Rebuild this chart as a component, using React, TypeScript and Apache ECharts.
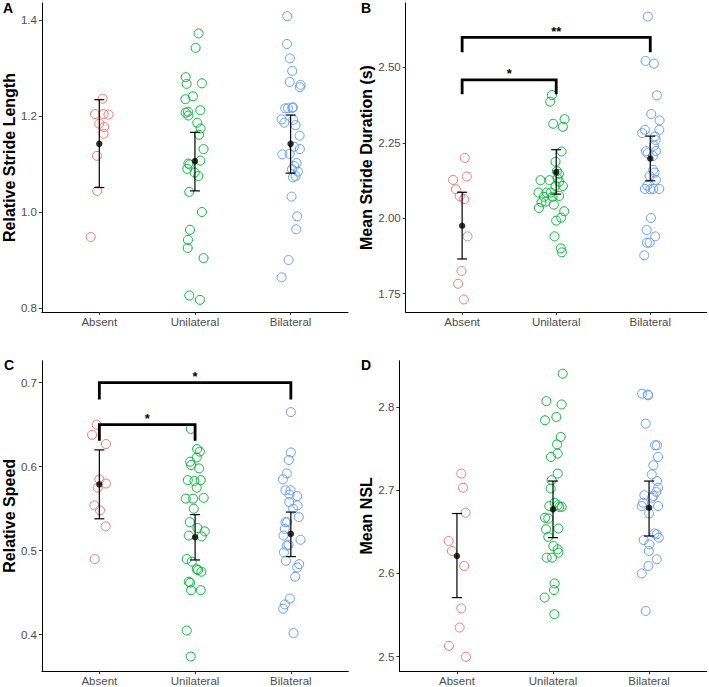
import React, { useEffect, useRef } from "react";
import * as echarts from "echarts";

const categories = ["Absent", "Unilateral", "Bilateral"];
const groupColors = ["#F8766D", "#00BA38", "#619CFF"];

// Each point: [horizontal jitter offset from category centre, value]
// Panel A — Relative Stride Length
const strideLengthAbsent = [[0.035,1.236],[-0.045,1.204],[0.045,1.204],[0.097,1.203],[0,1.184],[0.052,1.177],[0.045,1.163],[-0.024,1.117],[-0.021,1.044],[-0.09,0.948]];
const strideLengthUnilateral = [[0.038,1.372],[0.007,1.342],[-0.097,1.281],[-0.087,1.267],[0.073,1.268],[-0.021,1.241],[-0.1,1.235],[0.056,1.212],[-0.097,1.207],[-0.073,1.209],[-0.069,1.201],[0.024,1.186],[0.059,1.174],[0.042,1.161],[0.09,1.131],[0.056,1.107],[-0.069,1.101],[-0.056,1.099],[-0.08,1.09],[-0.003,1.082],[0.035,1.075],[-0.059,1.042],[0.073,1.0],[-0.052,0.963],[-0.073,0.942],[-0.076,0.925],[0.09,0.904],[-0.059,0.826],[0.052,0.817]];
const strideLengthBilateral = [[-0.035,1.408],[-0.038,1.35],[-0.007,1.32],[0.017,1.294],[-0.01,1.271],[0.104,1.265],[0.097,1.26],[-0.056,1.216],[-0.028,1.216],[0.017,1.217],[0.024,1.218],[-0.094,1.193],[-0.066,1.186],[0.028,1.192],[0.052,1.181],[0.094,1.159],[0.035,1.136],[0.097,1.131],[-0.087,1.12],[-0.01,1.121],[0.063,1.102],[0.038,1.096],[0.014,1.089],[0.076,1.084],[0.024,1.072],[0.052,1.075],[0.01,1.032],[0.069,0.991],[0.059,0.964],[-0.021,0.9],[-0.094,0.864]];
const strideLengthMean = [1.142, 1.106, 1.142];
const strideLengthLower = [1.051, 1.044, 1.081];
const strideLengthUpper = [1.234, 1.166, 1.202];
const strideLengthTicks = [0.8, 1.0, 1.2, 1.4];

// Panel B — Mean Stride Duration (s)
const strideDurAbsent = [[0.028,2.2],[-0.096,2.127],[0.05,2.138],[-0.067,2.096],[-0.025,2.073],[0.021,2.063],[0.057,1.94],[-0.007,1.825],[-0.043,1.783],[0.018,1.731]];
const strideDurUnilateral = [[-0.046,2.408],[-0.064,2.386],[-0.032,2.313],[0.089,2.328],[0.071,2.303],[0.057,2.221],[-0.007,2.187],[0.007,2.156],[0.028,2.147],[-0.167,2.126],[0.014,2.132],[-0.071,2.126],[0.032,2.121],[0.071,2.107],[-0.007,2.107],[-0.188,2.085],[-0.103,2.085],[-0.057,2.085],[-0.039,2.071],[0.032,2.074],[-0.131,2.071],[-0.156,2.053],[-0.11,2.055],[-0.025,2.045],[-0.184,2.034],[0.085,2.023],[0.053,2.002],[0,1.992],[-0.018,1.94],[0.05,1.9],[0.06,1.887]];
const strideDurBilateral = [[-0.025,2.668],[-0.05,2.521],[0.039,2.512],[0.071,2.407],[0.011,2.345],[0.099,2.324],[-0.057,2.293],[0.096,2.293],[-0.085,2.282],[0.05,2.271],[0.057,2.259],[0.039,2.24],[-0.046,2.222],[0.06,2.223],[-0.028,2.215],[0.028,2.206],[0.032,2.16],[0.046,2.151],[-0.007,2.14],[0.06,2.127],[-0.032,2.108],[-0.057,2.097],[0,2.096],[0.032,2.097],[0.096,2.097],[0.007,2.001],[-0.039,1.961],[0.053,1.94],[-0.007,1.919],[-0.035,1.919],[-0.064,1.877]];
const strideDurMean = [1.975, 2.153, 2.198];
const strideDurLower = [1.865, 2.08, 2.124];
const strideDurUpper = [2.086, 2.227, 2.272];
const strideDurTicks = [1.75, 2.0, 2.25, 2.5];
const strideDurBrackets = [
  { from: 1, to: 2, top: 2.458, drop: 2.411, label: "*" },
  { from: 1, to: 3, top: 2.599, drop: 2.55, label: "**" },
];

// Panel C — Relative Speed
const speedAbsent = [[-0.028,0.65],[-0.076,0.638],[0.069,0.627],[0,0.585],[0.069,0.58],[-0.017,0.575],[-0.052,0.554],[0.007,0.548],[0.066,0.529],[-0.049,0.49]];
const speedUnilateral = [[-0.045,0.645],[0.021,0.621],[0.049,0.618],[0.017,0.611],[-0.052,0.606],[-0.042,0.602],[0.042,0.598],[-0.076,0.584],[-0.007,0.583],[0.059,0.584],[0.017,0.575],[-0.097,0.562],[-0.021,0.562],[0.09,0.563],[-0.014,0.55],[-0.056,0.534],[0.024,0.527],[0.101,0.523],[-0.066,0.518],[0.069,0.517],[-0.087,0.49],[-0.035,0.487],[0.017,0.478],[0.031,0.477],[0.066,0.475],[-0.066,0.463],[-0.052,0.462],[-0.042,0.453],[0.059,0.453],[-0.087,0.405],[-0.045,0.374]];
const speedBilateral = [[0,0.665],[0,0.617],[-0.021,0.608],[-0.042,0.592],[-0.083,0.585],[-0.056,0.572],[-0.003,0.572],[-0.014,0.567],[0.066,0.565],[-0.017,0.558],[0.069,0.554],[0.024,0.55],[0.083,0.54],[-0.056,0.534],[-0.038,0.534],[-0.063,0.526],[-0.076,0.518],[0.101,0.513],[-0.042,0.506],[-0.024,0.507],[-0.073,0.498],[-0.052,0.488],[0.087,0.484],[0.066,0.48],[0.045,0.469],[-0.01,0.443],[-0.063,0.436],[-0.08,0.431],[0.028,0.402]];
const speedMean = [0.579, 0.516, 0.52];
const speedLower = [0.538, 0.489, 0.493];
const speedUpper = [0.62, 0.543, 0.546];
const speedTicks = [0.4, 0.5, 0.6, 0.7];
const speedBrackets = [
  { from: 1, to: 2, top: 0.65, drop: 0.631, label: "*" },
  { from: 1, to: 3, top: 0.7, drop: 0.68, label: "*" },
];

// Panel D — Mean NSL
const nslAbsent = [[0.045,2.72],[0.063,2.703],[0.09,2.673],[-0.087,2.639],[-0.052,2.627],[0.076,2.609],[0.045,2.558],[0.028,2.535],[-0.083,2.513],[0.094,2.5]];
const nslUnilateral = [[0.101,2.84],[-0.069,2.807],[0.09,2.803],[0.035,2.788],[-0.083,2.784],[0.08,2.764],[0.042,2.755],[0.049,2.744],[-0.021,2.74],[0.049,2.72],[-0.014,2.712],[-0.024,2.702],[0.017,2.685],[-0.038,2.681],[0.049,2.682],[0.09,2.68],[0.066,2.68],[-0.083,2.667],[-0.049,2.666],[-0.073,2.653],[0.056,2.654],[-0.049,2.644],[0.003,2.633],[0.049,2.629],[0.056,2.625],[-0.066,2.619],[-0.01,2.619],[0.017,2.588],[0.01,2.58],[-0.087,2.571],[0.014,2.551]];
const nslBilateral = [[-0.073,2.816],[-0.014,2.815],[-0.01,2.814],[-0.035,2.78],[0.063,2.754],[0.083,2.754],[0.094,2.74],[0.045,2.73],[0.028,2.719],[0.083,2.711],[0.094,2.703],[0.076,2.698],[0.045,2.693],[-0.049,2.694],[0.031,2.691],[-0.063,2.685],[-0.076,2.681],[0.094,2.681],[0,2.672],[0.056,2.648],[0.08,2.647],[0.101,2.643],[-0.056,2.64],[0.003,2.635],[-0.003,2.627],[0.08,2.617],[-0.007,2.609],[-0.076,2.6],[-0.035,2.555]];
const nslMean = [2.621, 2.677, 2.679];
const nslLower = [2.571, 2.643, 2.645];
const nslUpper = [2.672, 2.711, 2.711];
const nslTicks = [2.5, 2.6, 2.7, 2.8];

const FONT = '"Liberation Sans", Arial, Helvetica, sans-serif';

type Bracket = { from: number; to: number; top: number; drop: number; label: string };

const panels = [
  {
    letter: "A", title: "Relative Stride Length",
    groups: [strideLengthAbsent, strideLengthUnilateral, strideLengthBilateral],
    mean: strideLengthMean, lower: strideLengthLower, upper: strideLengthUpper,
    ticks: strideLengthTicks, decimals: 1, brackets: [] as Bracket[],
    grid: { left: 41, top: 3, width: 307, height: 309 }, yMin: 0.7917, yMax: 1.4354, nameGap: 22,
    letterPos: [7, 8],
  },
  {
    letter: "B", title: "Mean Stride Duration (s)",
    groups: [strideDurAbsent, strideDurUnilateral, strideDurBilateral],
    mean: strideDurMean, lower: strideDurLower, upper: strideDurUpper,
    ticks: strideDurTicks, decimals: 2, brackets: strideDurBrackets,
    grid: { left: 405.7, top: 3, width: 301, height: 309 }, yMin: 1.6894, yMax: 2.7129, nameGap: 30,
    letterPos: [365, 8],
  },
  {
    letter: "C", title: "Relative Speed",
    groups: [speedAbsent, speedUnilateral, speedBilateral],
    mean: speedMean, lower: speedLower, upper: speedUpper,
    ticks: speedTicks, decimals: 1, brackets: speedBrackets,
    grid: { left: 41.7, top: 360.7, width: 306.6, height: 310.3 }, yMin: 0.3568, yMax: 0.7262, nameGap: 23,
    letterPos: [8, 365],
  },
  {
    letter: "D", title: "Mean NSL",
    groups: [nslAbsent, nslUnilateral, nslBilateral],
    mean: nslMean, lower: nslLower, upper: nslUpper,
    ticks: nslTicks, decimals: 1, brackets: [] as Bracket[],
    grid: { left: 399.3, top: 360.7, width: 307.4, height: 310.3 }, yMin: 2.4828, yMax: 2.8556, nameGap: 23,
    letterPos: [365, 365],
  },
];

function buildOption() {
  const grid: any[] = [];
  const xAxis: any[] = [];
  const yAxis: any[] = [];
  const series: any[] = [];
  const graphic: any[] = [];

  panels.forEach((p, i) => {
    grid.push({ ...p.grid, containLabel: false });
    xAxis.push({
      type: "value", gridIndex: i, min: 0.4, max: 3.6,
      axisLine: { onZero: false, lineStyle: { color: "#000", width: 1 } },
      axisTick: { customValues: [1, 2, 3], length: 3, lineStyle: { color: "#333" } },
      axisLabel: {
        customValues: [1, 2, 3], margin: 4, color: "#4D4D4D", fontSize: 11.5, fontFamily: FONT,
        formatter: (v: number) => categories[Math.round(v) - 1] ?? "",
      },
      splitLine: { show: false },
    });
    yAxis.push({
      type: "value", gridIndex: i, min: p.yMin, max: p.yMax,
      name: p.title, nameLocation: "middle", nameGap: p.nameGap,
      nameTextStyle: { fontSize: 16, fontWeight: "bold", color: "#000", fontFamily: FONT },
      axisLine: { show: true, onZero: false, lineStyle: { color: "#000", width: 1 } },
      axisTick: { show: true, customValues: p.ticks, length: 3, lineStyle: { color: "#333" } },
      axisLabel: {
        customValues: p.ticks, margin: 5, color: "#4D4D4D", fontSize: 11.5, fontFamily: FONT,
        formatter: (v: number) => v.toFixed(p.decimals),
      },
      splitLine: { show: false },
    });

    p.groups.forEach((pts, g) => {
      series.push({
        type: "scatter", xAxisIndex: i, yAxisIndex: i, silent: true, z: 2,
        symbol: "circle", symbolSize: 9,
        itemStyle: { color: "rgba(255,255,255,0)", borderColor: groupColors[g], borderWidth: 1, opacity: 1 },
        data: pts.map(([o, v]) => [g + 1 + o, v]),
      });
    });

    series.push({
      type: "custom", xAxisIndex: i, yAxisIndex: i, silent: true, z: 3,
      encode: { x: 0, y: [1, 2, 3] },
      data: p.mean.map((m, k) => [k + 1, m, p.lower[k], p.upper[k]]),
      renderItem: (_params: any, api: any) => {
        const x = api.value(0);
        const t = api.coord([x, api.value(3)]);
        const b = api.coord([x, api.value(2)]);
        const w = 5;
        const st = { stroke: "#000", lineWidth: 1.2 };
        return {
          type: "group",
          children: [
            { type: "line", shape: { x1: t[0], y1: t[1], x2: b[0], y2: b[1] }, style: st },
            { type: "line", shape: { x1: t[0] - w, y1: t[1], x2: t[0] + w, y2: t[1] }, style: st },
            { type: "line", shape: { x1: b[0] - w, y1: b[1], x2: b[0] + w, y2: b[1] }, style: st },
          ],
        };
      },
    });

    series.push({
      type: "scatter", xAxisIndex: i, yAxisIndex: i, silent: true, z: 4,
      symbol: "circle", symbolSize: 6.5, itemStyle: { color: "#000" },
      data: p.mean.map((m, k) => [k + 1, m]),
    });

    if (p.brackets.length) {
      const br = p.brackets;
      series.push({
        type: "custom", xAxisIndex: i, yAxisIndex: i, silent: true, z: 5, clip: false,
        encode: { x: [0, 1], y: [2, 3] },
        data: br.map((b) => [b.from, b.to, b.top, b.drop]),
        renderItem: (params: any, api: any) => {
          const a1 = api.coord([api.value(0), api.value(3)]);
          const a2 = api.coord([api.value(0), api.value(2)]);
          const b2 = api.coord([api.value(1), api.value(2)]);
          const b1 = api.coord([api.value(1), api.value(3)]);
          return {
            type: "group",
            children: [
              {
                type: "polyline",
                shape: { points: [a1, a2, b2, b1] },
                style: { stroke: "#000", lineWidth: 2.8, fill: "none", lineJoin: "miter" },
              },
              {
                type: "text",
                x: (a2[0] + b2[0]) / 2,
                y: a2[1] - 6,
                style: {
                  text: br[params.dataIndex].label, align: "center", verticalAlign: "middle",
                  fontSize: 13, fontWeight: "bold", fill: "#000", fontFamily: FONT,
                },
              },
            ],
          };
        },
      });
    }

    graphic.push({
      type: "text", left: p.letterPos[0] - 4, top: p.letterPos[1] - 7,
      style: { text: p.letter, fontSize: 14, fontWeight: "bold", fill: "#000", fontFamily: FONT },
    });
  });

  return {
    animation: false,
    backgroundColor: "#fff",
    textStyle: { fontFamily: FONT },
    grid, xAxis, yAxis, series, graphic,
  };
}

export default function App() {
  const ref = useRef<HTMLDivElement>(null);
  useEffect(() => {
    const chart = echarts.init(ref.current!, null, { renderer: "svg" });
    chart.setOption(buildOption() as any);
    return () => chart.dispose();
  }, []);
  return (
    <div
      ref={ref}
      style={{ position: "absolute", left: 0, top: 0, width: 709, height: 687, background: "#fff" }}
    />
  );
}
